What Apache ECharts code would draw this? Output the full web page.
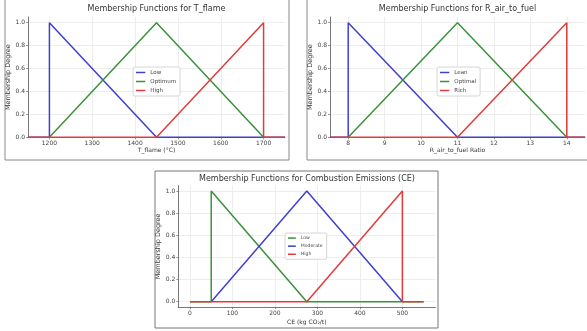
<!DOCTYPE html>
<html>
<head>
<meta charset="utf-8">
<script src="https://cdn.jsdelivr.net/npm/echarts@6/dist/echarts.min.js"></script>
<style>
  html, body { margin: 0; padding: 0; background: #fff; }
  #chart { width: 587px; height: 331px; }
</style>
</head>
<body>
<div id="chart"></div>
<script>
// ---- data ------------------------------------------------------------------
// T_flame (°C)
const tLowX = [1150, 1200, 1200, 1450, 1750];
const tLowY = [0, 0, 1, 0, 0];
const tOptX = [1200, 1450, 1700];
const tOptY = [0, 1, 0];
const tHighX = [1150, 1450, 1700, 1700, 1750];
const tHighY = [0, 0, 1, 0, 0];
const tTicks = [1200, 1300, 1400, 1500, 1600, 1700];

// R_air_to_fuel ratio
const rLeanX = [7.5, 8, 8, 11, 14.5];
const rLeanY = [0, 0, 1, 0, 0];
const rOptX = [8, 11, 14];
const rOptY = [0, 1, 0];
const rRichX = [7.5, 11, 14, 14, 14.5];
const rRichY = [0, 0, 1, 0, 0];
const rTicks = [8, 9, 10, 11, 12, 13, 14];

// CE (kg CO2/t)
const ceLowX = [0, 50, 50, 275, 550];
const ceLowY = [0, 0, 1, 0, 0];
const ceModX = [50, 275, 500];
const ceModY = [0, 1, 0];
const ceHighX = [0, 275, 500, 500, 550];
const ceHighY = [0, 0, 1, 0, 0];
const ceTicks = [0, 100, 200, 300, 400, 500];

const degreeTicks = [0, 0.2, 0.4, 0.6, 0.8, 1.0];

// ---- styles ----------------------------------------------------------------
const font = 'DejaVu Sans';
const blue = '#3f3fd0';
const green = '#3a923a';
const red = '#e53a3a';

function pts(xs, ys) {
  return xs.map(function (x, i) { return [x, ys[i]]; });
}

function line(name, color, idx, xs, ys) {
  return {
    name: name,
    type: 'line',
    xAxisIndex: idx,
    yAxisIndex: idx,
    data: pts(xs, ys),
    symbol: 'none',
    showSymbol: false,
    silent: true,
    lineStyle: { width: 1.5, color: color },
    itemStyle: { color: color }
  };
}

function xAx(idx, min, max, ticks, name, nameGap) {
  return {
    type: 'value', gridIndex: idx, min: min, max: max,
    name: name, nameLocation: 'middle', nameGap: nameGap,
    nameTextStyle: { fontSize: 6, color: '#333', fontFamily: font },
    axisLine: { onZero: false, lineStyle: { color: '#555', width: 0.8 } },
    axisTick: { show: true, length: 2, customValues: ticks, lineStyle: { color: '#555', width: 0.6 } },
    axisLabel: {
      customValues: ticks, fontSize: 6, color: '#444', fontFamily: font, margin: 3,
      formatter: function (v) { return String(v); }
    },
    splitLine: { show: true, lineStyle: { color: '#e8e8e8', width: 0.8 } }
  };
}

function yAx(idx, min, max) {
  return {
    type: 'value', gridIndex: idx, min: min, max: max,
    name: 'Membership Degree', nameLocation: 'middle', nameGap: 12,
    nameTextStyle: { fontSize: 6.5, color: '#333', fontFamily: font },
    axisLine: { show: true, onZero: false, lineStyle: { color: '#555', width: 0.8 } },
    axisTick: { show: true, length: 2, customValues: degreeTicks, lineStyle: { color: '#555', width: 0.6 } },
    axisLabel: {
      customValues: degreeTicks, fontSize: 6, color: '#444', fontFamily: font, margin: 3,
      formatter: function (v) { return v.toFixed(1); }
    },
    splitLine: { show: true, lineStyle: { color: '#e8e8e8', width: 0.8 } }
  };
}

function legend(left, top, size, items) {
  return {
    orient: 'vertical', left: left, top: top,
    itemWidth: size * 1.7, itemHeight: 1.5, itemGap: 2, itemTextGap: 4,
    icon: 'rect',
    padding: [2, 4, 2, 3],
    backgroundColor: '#fff', borderColor: '#ccc', borderWidth: 0.8, borderRadius: 2,
    selectedMode: false,
    textStyle: { fontSize: size, color: '#444', fontFamily: font, lineHeight: size + 1.5 },
    data: items
  };
}

function title(text, x, y) {
  return {
    text: text, left: x, top: y, textAlign: 'center', padding: 0,
    textStyle: { fontSize: 8, color: '#333', fontWeight: 'normal', fontFamily: font }
  };
}

// ---- chart -----------------------------------------------------------------
let chart = echarts.init(document.getElementById('chart'), null, { renderer: 'canvas' });

let option = {
  animation: false,
  backgroundColor: '#fff',
  title: [
    title('Membership Functions for T_flame', 156.5, 5),
    title('Membership Functions for R_air_to_fuel', 457.5, 5),
    title('Membership Functions for Combustion Emissions (CE)', 307, 174.5)
  ],
  grid: [
    { left: 28, top: 17, width: 257, height: 120.3 },
    { left: 330, top: 17, width: 255, height: 120.3 },
    { left: 178.3, top: 185.5, width: 257, height: 121.7 }
  ],
  xAxis: [
    xAx(0, 1150, 1750, tTicks, 'T_flame (°C)', 10),
    xAx(1, 7.5, 14.5, rTicks, 'R_air_to_fuel Ratio', 10),
    xAx(2, -27.5, 577.5, ceTicks, 'CE (kg CO₂/t)', 12)
  ],
  yAxis: [
    yAx(0, 0, 1.05),
    yAx(1, 0, 1.05),
    yAx(2, -0.05, 1.05)
  ],
  legend: [
    legend(133, 67, 5.5, [
      { name: 'Low', itemStyle: { color: blue } },
      { name: 'Optimum', itemStyle: { color: green } },
      { name: 'High', itemStyle: { color: red } }
    ]),
    legend(437, 67, 5.5, [
      { name: 'Lean', itemStyle: { color: blue } },
      { name: 'Optimal', itemStyle: { color: green } },
      { name: 'Rich', itemStyle: { color: red } }
    ]),
    legend(285, 233, 4.6, [
      { name: 'Low', itemStyle: { color: green } },
      { name: 'Moderate', itemStyle: { color: blue } },
      { name: 'High', itemStyle: { color: red } }
    ])
  ],
  graphic: [
    { type: 'rect', shape: { x: 5, y: -2, width: 284, height: 162 }, style: { fill: 'none', stroke: '#888', lineWidth: 1 }, silent: true },
    { type: 'rect', shape: { x: 307, y: -2, width: 290, height: 162 }, style: { fill: 'none', stroke: '#888', lineWidth: 1 }, silent: true },
    { type: 'rect', shape: { x: 155, y: 171, width: 283, height: 157 }, style: { fill: 'none', stroke: '#777', lineWidth: 1 }, silent: true }
  ],
  series: [
    line('Low', blue, 0, tLowX, tLowY),
    line('Optimum', green, 0, tOptX, tOptY),
    line('High', red, 0, tHighX, tHighY),
    line('Lean', blue, 1, rLeanX, rLeanY),
    line('Optimal', green, 1, rOptX, rOptY),
    line('Rich', red, 1, rRichX, rRichY),
    line('Low', green, 2, ceLowX, ceLowY),
    line('Moderate', blue, 2, ceModX, ceModY),
    line('High', red, 2, ceHighX, ceHighY)
  ]
};

chart.setOption(option);
</script>
</body>
</html>
